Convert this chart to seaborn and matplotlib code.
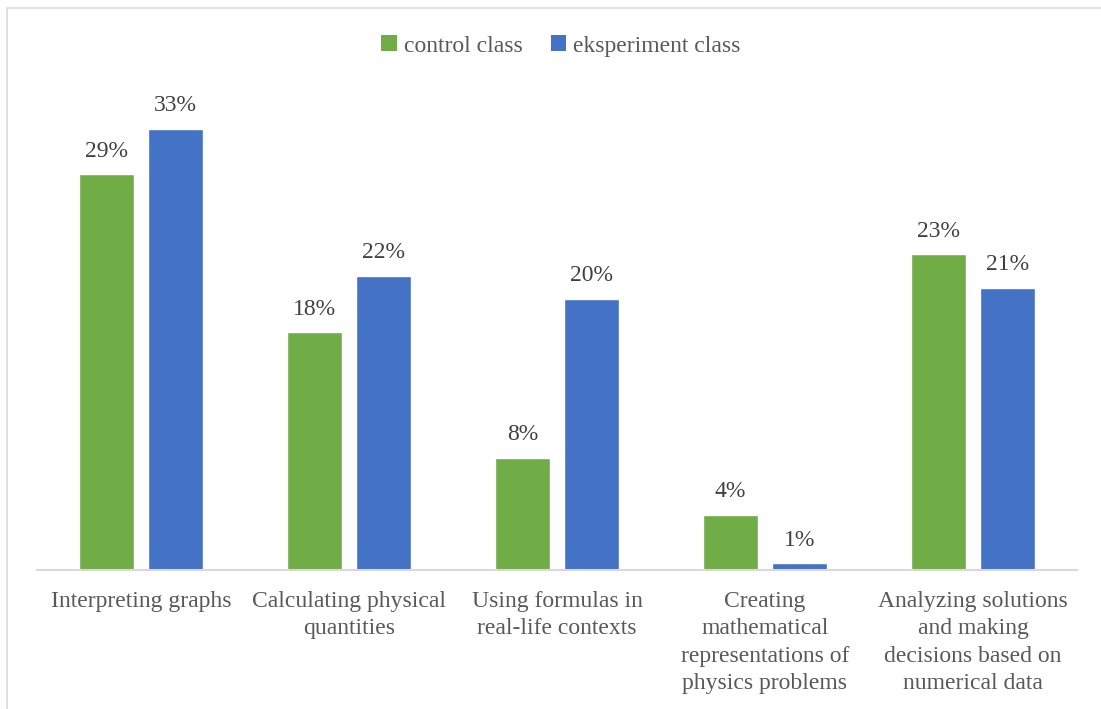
import numpy as np
import pandas as pd
import matplotlib
matplotlib.use("Agg")
import matplotlib.pyplot as plt
import seaborn as sns
from matplotlib.patches import Rectangle, Patch

# data
categories = [
    "Interpreting graphs",
    "Calculating physical\nquantities",
    "Using formulas in\nreal-life contexts",
    "Creating\nmathematical\nrepresentations of\nphysics problems",
    "Analyzing solutions\nand making\ndecisions based on\nnumerical data",
]
control = [29.3, 17.6, 8.3, 4.1, 23.4]
eksperiment = [32.7, 21.8, 20.1, 0.5, 20.9]
control_labels = ["29%", "18%", "8%", "4%", "23%"]
eksperiment_labels = ["33%", "22%", "20%", "1%", "21%"]
classes = ["control class", "eksperiment class"]
colors = ["#70AD47", "#4472C4"]

df = pd.DataFrame({
    "category": categories * 2,
    "value": control + eksperiment,
    "class": [classes[0]] * 5 + [classes[1]] * 5,
})

sns.set_style("white")
plt.rcParams["font.family"] = ["Liberation Serif", "DejaVu Serif"]

fig = plt.figure(figsize=(11.01, 7.09), dpi=100)
ax = fig.add_axes([37 / 1101, 139 / 709, (1077 - 37) / 1101, 470 / 709])

sns.barplot(data=df, x="category", y="value", hue="class", palette=colors,
            width=0.66, gap=0.2, ax=ax, legend=False, saturation=1)

ax.set_xlim(-0.5, 4.5)
ax.set_ylim(0, 470 / 13.5)
for c, labs in zip(ax.containers, [control_labels, eksperiment_labels]):
    ax.bar_label(c, labels=labs, padding=9, fontsize=17, color="#404040")

ax.set_xlabel("")
ax.set_ylabel("")
ax.set_yticks([])
ax.tick_params(axis="x", length=0, pad=15, labelsize=17, labelcolor="#595959")
for lbl in ax.get_xticklabels():
    lbl.set_linespacing(1.4)
    lbl.set_ha("center")
for s in ["top", "right", "left"]:
    ax.spines[s].set_visible(False)
ax.spines["bottom"].set_color("#D9D9D9")
ax.spines["bottom"].set_linewidth(1.5)

handles = [Patch(facecolor=col, edgecolor="none") for col in colors]
fig.legend(handles, classes, loc="center", bbox_to_anchor=(561 / 1101, 1 - 46 / 709),
           ncol=2, frameon=False, fontsize=17, labelcolor="#595959",
           handlelength=0.65, handleheight=0.65, handletextpad=0.3, columnspacing=1.2)

# outer chart border
fig.patches.append(Rectangle((7 / 1101, -0.1), 1.2, 1 - 8 / 709 + 0.1,
                             transform=fig.transFigure, fill=False,
                             edgecolor="#D9D9D9", linewidth=1.2))

fig.savefig("out.png", dpi=100)
